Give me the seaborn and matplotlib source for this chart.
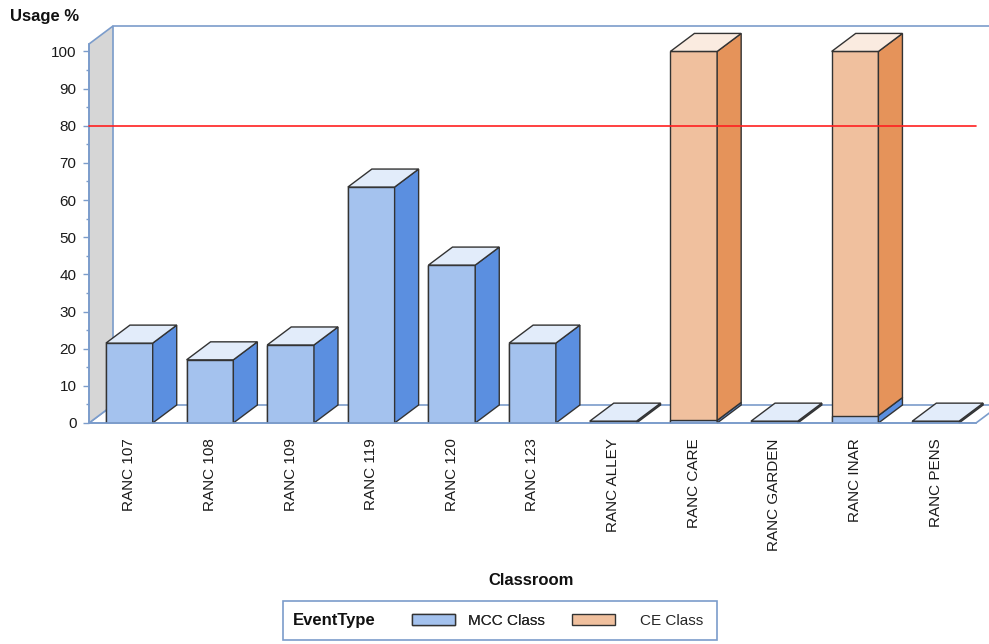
import numpy as np
import matplotlib.pyplot as plt
import pandas as pd
import seaborn as sns
from matplotlib.patches import Polygon, Rectangle, Patch

# data
rooms = ["RANC 107", "RANC 108", "RANC 109", "RANC 119", "RANC 120", "RANC 123",
         "RANC ALLEY", "RANC CARE", "RANC GARDEN", "RANC INAR", "RANC PENS"]
mcc_usage = [21.5, 17, 21, 63.5, 42.5, 21.5, 0.5, 0.7, 0.5, 2.0, 0.5]
ce_usage = [0, 0, 0, 0, 0, 0, 0, 99.3, 0, 98.0, 0]
target = 80

# colours
mcc_cols = ["#A4C2EE", "#5B8FE0", "#E2ECFA"]   # front, side, top
ce_cols = ["#F0C09E", "#E5935A", "#FAEBE0"]
wall_line = "#7B9CCB"
edge = "#333333"

sns.set_theme(style="white")
plt.rcParams['font.family'] = ['Liberation Sans', 'DejaVu Sans']

df = pd.DataFrame({"Classroom": rooms, "MCC Class": mcc_usage, "CE Class": ce_usage})
df["Total"] = df["MCC Class"] + df["CE Class"]

fig = plt.figure(figsize=(9.89, 6.44), dpi=100)
ax = fig.add_axes([89 / 989, 1 - 423 / 644, (976 - 89) / 989, (423 - 44) / 644])

# stacked bars: total in CE colour, then MCC over it
sns.barplot(data=df, x="Classroom", y="Total", color=ce_cols[0], saturation=1,
            width=0.58, edgecolor=edge, linewidth=1, ax=ax, zorder=2)
sns.barplot(data=df, x="Classroom", y="MCC Class", color=mcc_cols[0], saturation=1,
            width=0.58, edgecolor=edge, linewidth=1, ax=ax, zorder=2)

n = len(rooms)
ax.set_xlim(-0.5, n - 0.5)
ax.set_ylim(0, 102)
top = 102

# depth offset (data units)
dx = 24 / 80.6
dy = 18 / (379 / 102)

# side wall, floor, back wall lines
x0w = -0.5
ax.add_patch(Polygon([(x0w, 0), (x0w, top), (x0w + dx, top + dy), (x0w + dx, dy)],
                     closed=True, facecolor="#D6D6D6", edgecolor=wall_line, lw=1.2,
                     clip_on=False, zorder=0.5))
ax.add_patch(Polygon([(x0w, 0), (n - 0.5, 0), (n - 0.5 + dx, dy), (x0w + dx, dy)],
                     closed=True, facecolor="white", edgecolor=wall_line, lw=1.2,
                     clip_on=False, zorder=0.4))
ax.plot([x0w + dx, n - 0.5 + dx], [top + dy, top + dy], color=wall_line, lw=1.2,
        clip_on=False, zorder=0.5)

# 3d faces from the bar patches
totals = df["Total"].values
mccs = df["MCC Class"].values
mcc_bars = [p for p in ax.patches if isinstance(p, Rectangle)][n:2 * n]
for i, p in enumerate(mcc_bars):
    xl = p.get_x()
    xr = xl + p.get_width()
    segs = [(0, mccs[i], mcc_cols)]
    if ce_usage[i] > 0:
        segs.append((mccs[i], totals[i], ce_cols))
    for lo, hi, cols in segs:
        ax.add_patch(Polygon([(xr, lo), (xr + dx, lo + dy), (xr + dx, hi + dy), (xr, hi)],
                             closed=True, facecolor=cols[1], edgecolor=edge, lw=1,
                             clip_on=False, zorder=2.1))
    t = totals[i]
    tc = segs[-1][2]
    ax.add_patch(Polygon([(xl, t), (xl + dx, t + dy), (xr + dx, t + dy), (xr, t)],
                         closed=True, facecolor=tc[2], edgecolor=edge, lw=1,
                         clip_on=False, zorder=2.1))

# target line
ax.plot([-0.5, n - 0.5], [target, target], color="#FF2020", lw=1.2,
        clip_on=False, zorder=3)

# axes styling
for s in ["top", "right"]:
    ax.spines[s].set_visible(False)
ax.spines["left"].set_color(wall_line)
ax.spines["bottom"].set_color(wall_line)
ax.spines["left"].set_linewidth(1.2)
ax.spines["bottom"].set_linewidth(1.2)
ax.set_yticks(np.arange(0, 101, 10))
ax.set_yticks(np.arange(5, 101, 10), minor=True)
ax.tick_params(axis="y", which="major", left=True, length=4, width=1, color=wall_line,
               labelsize=11, labelcolor="#1A1A1A", pad=5)
ax.tick_params(axis="y", which="minor", left=True, length=2.5, width=1, color=wall_line)
ax.tick_params(axis="x", bottom=False, labelsize=11, labelcolor="#1A1A1A", pad=5)
ax.set_xticks(range(n))
ax.set_xticklabels(rooms, rotation=90)
ax.set_ylabel("")
ax.set_xlabel("Classroom", fontsize=12, fontweight="bold", color="#111111")
ax.xaxis.set_label_coords((531 - 89) / 887, (423 - 573) / 379)
ax.grid(False)

fig.text(10 / 989, 1 - 16 / 644, "Usage %", fontsize=12, fontweight="bold",
         color="#111111", va="center", ha="left")

# legend box
fig.patches.append(Rectangle((283 / 989, 1 - 640 / 644), (717 - 283) / 989, 39 / 644,
                             transform=fig.transFigure, facecolor="white",
                             edgecolor=wall_line, lw=1.2))
fig.text(293 / 989, 1 - 621 / 644, "EventType", fontsize=12, fontweight="bold",
         color="#111111", va="center", ha="left")
leg_mcc = fig.legend(handles=[Patch(facecolor=mcc_cols[0], edgecolor=edge, label="MCC Class")],
                     frameon=False, fontsize=11, loc="center left",
                     bbox_to_anchor=(398 / 989, 1 - 621 / 644),
                     handlelength=2.8, handleheight=0.7, handletextpad=0.85)
fig.add_artist(leg_mcc)
fig.legend(handles=[Patch(facecolor=ce_cols[0], edgecolor=edge, label="CE Class")],
           frameon=False, fontsize=11, loc="center left",
           bbox_to_anchor=(558 / 989, 1 - 621 / 644),
           handlelength=2.8, handleheight=0.7, handletextpad=1.7)

fig.savefig("out.png", dpi=100)
